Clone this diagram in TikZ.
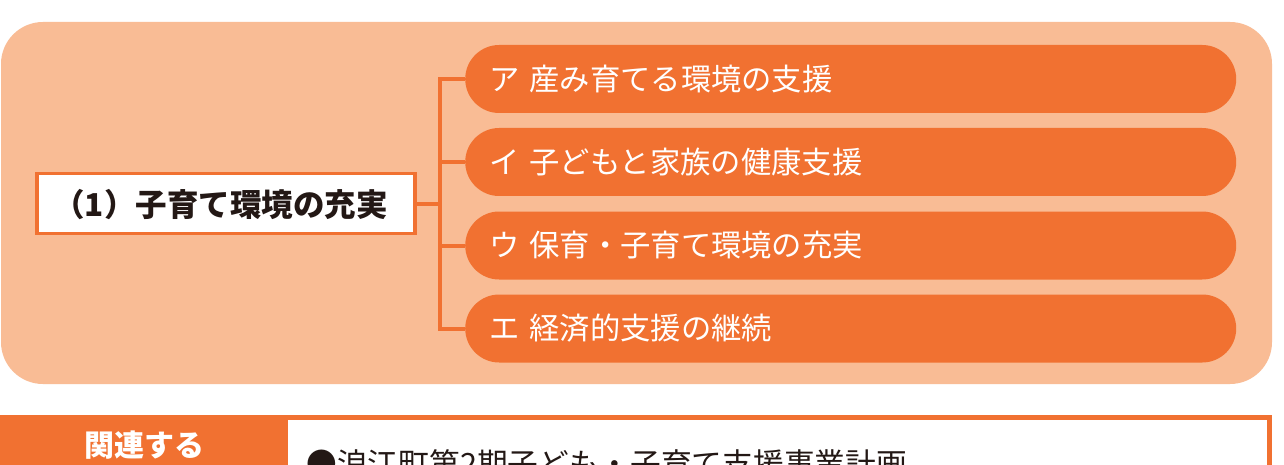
\documentclass[tikz,border=0pt]{standalone}
\usepackage{fontspec}
\setmainfont{Noto Sans CJK JP}
\newfontfamily\jp{Noto Sans CJK JP}
\definecolor{org}{HTML}{F17131}
\definecolor{peach}{HTML}{F9BC95}
\definecolor{ink}{HTML}{231815}
\tikzset{
  pill/.style={fill=org, rounded corners=34pt, minimum height=68pt, minimum width=771pt,
    text width=723pt, inner xsep=24pt, align=left, anchor=west, text=white,
    font=\jp\fontsize{30.3}{34}\selectfont},
  mainbox/.style={draw=org, line width=3.5pt, fill=white, minimum width=378pt, minimum height=60pt},
  maintext/.style={text=ink, inner sep=0pt, font=\jp\bfseries\fontsize{31.5}{36}\selectfont},
  link/.style={draw=org, line width=4pt},
  hdr/.style={text=white, font=\jp\bfseries\fontsize{30}{34}\selectfont},
  item/.style={text=ink, anchor=west, font=\jp\fontsize{30.7}{34}\selectfont}
}
\begin{document}
\begin{tikzpicture}[x=1pt,y=-1pt]
\useasboundingbox (0,0) rectangle (1284,465);
\clip (0,0) rectangle (1284,465);
\fill[white] (0,0) rectangle (1284,465);
% background panel
\fill[peach, rounded corners=42pt] (1,22) rectangle (1272,384);
% pills
\node[pill] (p1) at (465,79) {ア 産み育てる環境の支援};
\node[pill] (p2) at (465,162) {イ 子どもと家族の健康支援};
\node[pill] (p3) at (465,245.5) {ウ 保育・子育て環境の充実};
\node[pill] (p4) at (465,328.5) {エ 経済的支援の継続};
% main box
\node[mainbox] (m) at (226,203.5) {};
\node[maintext] (mt) at (220.5,205) {（1）子育て環境の充実};
% connectors
\coordinate (t1) at (440,79);
\coordinate (t4) at (440,328.5);
\draw[link] (p1.west) -- (t1) -- (t4) -- (p4.west);
\draw[link] (p2.west) -- (p2.west -| t1);
\draw[link] (p3.west) -- (p3.west -| t1);
\draw[link] (m.east) -- (m.east -| t1);
% bottom table
\draw[org, line width=5pt] (2.5,417.5) rectangle (1269.5,520);
\fill[org] (0,415) rectangle (288,520);
\node[hdr] (h) at (144,445) {関連する};
\node[item] (b) at (303,464) {●浪江町第2期子ども・子育て支援事業計画};
\end{tikzpicture}
\end{document}
